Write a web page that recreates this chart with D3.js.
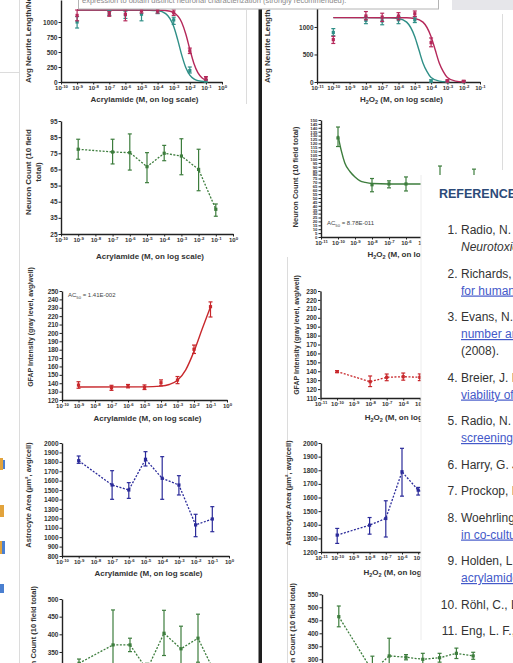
<!DOCTYPE html>
<html>
<head>
<meta charset="utf-8">
<script src="https://cdn.jsdelivr.net/npm/d3@7"></script>
<style>
  body { margin: 0; background: #fff; }
  svg { display: block; }
</style>
</head>
<body>
<div id="chart"></div>
<script>
// ---- doses and tick labels ----
var acrylDose = [1e-9, 1e-7, 1e-6, 1e-5, 1e-4, 1e-3, 1e-2, 1e-1];
var h2o2Dose = [1e-10, 1e-8, 1e-7, 1e-6, 1e-5, 1e-4, 1e-3, 1e-2];
var acrylTicks = [1e-10, 1e-9, 1e-8, 1e-7, 1e-6, 1e-5, 1e-4, 1e-3, 1e-2, 1e-1, 1];
var h2o2Ticks = [1e-11, 1e-10, 1e-9, 1e-8, 1e-7, 1e-6, 1e-5, 1e-4, 1e-3, 1e-2, 1e-1];

var lenTicksA = [0, 250, 500, 750, 1000];
var countTicksA = [25, 35, 45, 55, 65, 75, 85, 95];
var gfapTicksA = [120, 130, 140, 150, 160, 170, 180, 190, 200, 210, 220, 230, 240, 250];
var areaTicksA = [800, 900, 1000, 1100, 1200, 1300, 1400, 1500, 1600, 1700, 1800, 1900, 2000];
var count2TicksA = [250, 300, 350, 400, 450, 500];
var lenTicksH = [0, 500, 1000];
var countTicksH = [0, 5, 10, 15, 20, 25, 30, 35, 40, 45, 50, 55, 60, 65, 70, 75, 80, 85, 90, 95,
                   100, 105, 110, 115, 120, 125, 130, 135, 140, 145, 150];
var gfapTicksH = [110, 120, 130, 140, 150, 160, 170, 180, 190, 200, 210, 220, 230];
var areaTicksH = [1200, 1300, 1400, 1500, 1600, 1700, 1800, 1900, 2000];
var count2TicksH = [250, 300, 350, 400, 450, 500, 550];

// ---- acrylamide: neurite length, two cell lines ----
var lenAcrylPink   = [1110, 1135, 1130, 1190, 1195, 1155, 520, 60];
var lenAcrylPinkLo = [1020, 1095, 1020, 1150, 1150, 1110, 475, 30];
var lenAcrylPinkHi = [1200, 1175, 1200, 1230, 1240, 1200, 565, 90];
var lenAcrylTeal   = [1000, 1150, 1120, 1130, 1180, 1035, 190, 20];
var lenAcrylTealLo = [900, 1110, 1060, 1020, 1140, 960, 150, 0];
var lenAcrylTealHi = [1090, 1190, 1180, 1200, 1220, 1080, 250, 40];
var lenAcrylPinkFit = [[-9, 1200], [-4, 1199], [-3.5, 1192], [-3, 1157], [-2.5, 991], [-2.25, 800],
                       [-2, 548], [-1.75, 314], [-1.5, 156], [-1.25, 72], [-1, 31]];
var lenAcrylTealFit = [[-9, 1200], [-4.5, 1197], [-4, 1189], [-3.5, 1140], [-3, 924], [-2.75, 703],
                       [-2.5, 448], [-2.25, 241], [-2, 115], [-1.75, 52], [-1.5, 22], [-1, 4]];

// ---- acrylamide: neuron count ----
var countAcryl   = [77.5, 75.8, 75.4, 66.7, 75, 73.3, 65, 40.3];
var countAcrylLo = [71.3, 68.4, 64.6, 56.8, 70.4, 61.7, 51.8, 36];
var countAcrylHi = [83.7, 83.7, 87, 75.4, 79.9, 84, 77.5, 43.6];

// ---- acrylamide: GFAP ----
var gfapAcryl   = [137.8, 134.5, 136.5, 135.2, 140.6, 143.8, 180.5, 231.3];
var gfapAcrylLo = [134, 131.5, 134.5, 132.5, 137, 139.5, 175.5, 219];
var gfapAcrylHi = [141.8, 137.5, 138.5, 138, 144, 148, 185.5, 237];
var gfapAcrylFit = [[-9, 135.5], [-5, 135.6], [-4, 136.5], [-3.5, 138.5], [-3, 143.5], [-2.5, 156],
                    [-2, 178], [-1.5, 205], [-1, 231]];

// ---- acrylamide: astrocyte area ----
var areaAcryl   = [1812, 1554, 1501, 1827, 1625, 1554, 1130, 1193];
var areaAcrylLo = [1784, 1402, 1412, 1756, 1402, 1448, 1005, 1058];
var areaAcrylHi = [1862, 1706, 1579, 1908, 1855, 1653, 1243, 1324];

// ---- acrylamide: astrocyte count ----
var astroAcryl   = [318, 370, 370, 300, 403, 359, 389, 290];
var astroAcrylLo = [306, 271, 351, 282, 340, 295, 321, 270];
var astroAcrylHi = [330, 469, 389, 318, 468, 423, 457, 310];

// ---- H2O2: neurite length ----
var lenH2o2Pink   = [770, 1200, 1180, 1200, 1240, 715, 20, 10];
var lenH2o2PinkLo = [700, 1130, 1100, 1130, 1190, 640, 0, 0];
var lenH2o2PinkHi = [830, 1280, 1250, 1260, 1290, 800, 40, 30];
var lenH2o2Teal   = [900, 1120, 1110, 1130, 1130, 15, 5, 5];
var lenH2o2TealLo = [840, 1060, 1040, 1060, 1080, 0, 0, 0];
var lenH2o2TealHi = [970, 1180, 1170, 1190, 1180, 40, 20, 20];
var lenH2o2PinkFit = [[-10, 1170], [-5.5, 1168], [-5, 1155], [-4.5, 1088], [-4, 823], [-3.75, 585],
                      [-3.5, 347], [-3.25, 190], [-3, 82], [-2.5, 15], [-2, 3]];
var lenH2o2TealFit = [[-10, 1170], [-6.5, 1168], [-6, 1155], [-5.5, 1088], [-5, 823], [-4.75, 585],
                      [-4.5, 347], [-4.25, 190], [-4, 82], [-3.5, 15], [-3, 3]];

// ---- H2O2: neuron count ----
var countH2o2   = [127, 67, 68, 68, 68, 72, 70, 70];
var countH2o2Lo = [116, 58, 63, 59, 62, 53, 62, 53];
var countH2o2Hi = [141, 75, 72, 77, 74, 91, 78, 87];
var countH2o2Fit = [[-10, 130], [-9.8, 110], [-9.6, 95], [-9.3, 84], [-9, 77], [-8.7, 72],
                    [-8.4, 70], [-8, 68.5], [-7, 68], [-2, 68]];

// ---- H2O2: GFAP ----
var gfapH2o2   = [139.6, 128.3, 133.2, 133.9, 133.2, 134, 135, 136];
var gfapH2o2Lo = [138.5, 122.8, 129.4, 130, 129.5, 130, 131, 132];
var gfapH2o2Hi = [140.7, 134.7, 136.9, 138, 137, 138, 139, 140];

// ---- H2O2: astrocyte area ----
var areaH2o2   = [1324, 1397, 1446, 1789, 1654, 1600, 1560, 1520];
var areaH2o2Lo = [1263, 1331, 1310, 1610, 1618, 1540, 1500, 1450];
var areaH2o2Hi = [1373, 1453, 1576, 1961, 1674, 1660, 1620, 1590];

// ---- H2O2: astrocyte count ----
var astroH2o2   = [464, 255, 313, 308, 300, 306, 323, 313];
var astroH2o2Lo = [425, 200, 245, 298, 277, 289, 303, 300];
var astroH2o2Hi = [505, 312, 381, 318, 323, 323, 343, 327];

// ---- references list (right overlay) ----
var refNums = ["1.", "2.", "3.", "4.", "5.", "6.", "7.", "8.", "9.", "10.", "11."];
var refLines = [
  [["Radio, N. M. & Mundy, W. R. Developmental neurotoxicity", "t"], ["Neurotoxicology 29, 361-376 (2008).", "i"]],
  [["Richards, G. R. et al. Quantitative assessment of neurite", "t"], ["for human neural cells in culture.", "a"]],
  [["Evans, N. et al. Automated analysis of neurite", "t"], ["number and neurite length in vitro.", "a"], ["(2008).", "t"]],
  [["Breier, J. M. et al. Neural progenitor cells as models", "t"], ["viability of developing neurons.", "a"]],
  [["Radio, N. M. et al. Assessment of chemical effects", "t"], ["screening. Toxicol. Sci. (2008).", "a"]],
  [["Harry, G. J. & Tiffany-Castiglioni, E.", "t"]],
  [["Prockop, L. D. & Chichkova, R. I.", "t"]],
  [["Woehrling, E. K. et al. Single-cell ELISA and flow", "t"], ["in co-culture with astrocytes.", "a"]],
  [["Holden, L. J. & Coleman, M. P. Comparative effects of", "t"], ["acrylamide on neurite outgrowth.", "a"]],
  [["Röhl, C., Lucius, R. & Sievers, J.", "t"]],
  [["Eng, L. F., Ghirnikar, R. S. & Lee, Y. L.", "t"]]
];

var FONT = "'Liberation Sans', Arial, Helvetica, sans-serif";
var TEAL = "#2f8f87", PINK = "#b5285a", GREEN = "#3d7d3d", RED = "#c8282c", BLUE = "#2b2b9a";
var OVERLAY = { x: 421, y: 175, w: 92, h: 465 };

var svg = d3.select("#chart").append("svg")
    .attr("width", 513)
    .attr("height", 663)
    .style("font-family", FONT);

svg.append("rect").attr("width", 513).attr("height", 663).attr("fill", "#fff");

// faint page frame lines behind the figures
var frame = svg.append("g").attr("stroke", "#dcdcdc").attr("stroke-width", 1);
frame.append("line").attr("x1", 19.5).attr("x2", 19.5).attr("y1", 0).attr("y2", 663);
frame.append("line").attr("x1", 0).attr("x2", 19.5).attr("y1", 72.5).attr("y2", 72.5);
frame.append("line").attr("x1", 246.5).attr("x2", 246.5).attr("y1", 10).attr("y2", 104);
frame.append("line").attr("x1", 287.5).attr("x2", 287.5).attr("y1", 257).attr("y2", 663);
frame.append("line").attr("x1", 502.5).attr("x2", 502.5).attr("y1", 14).attr("y2", 170);

// draws axes of one panel and returns its scales
function drawPanel(p) {
    var x = d3.scaleLog().domain([p.xTicks[0], p.xTicks[p.xTicks.length - 1]]).range(p.xr);
    var y = d3.scaleLinear().domain(p.yd).range(p.yr);
    var g = svg.append("g");

    var ay = g.append("g")
        .attr("transform", `translate(${p.xr[0]},0)`)
        .call(d3.axisLeft(y).tickValues(p.yTicks).tickFormat(d3.format("d"))
            .tickSize(2.5).tickSizeOuter(0).tickPadding(1));
    ay.attr("font-family", FONT);
    ay.selectAll("text")
        .attr("font-size", p.yFont || 6.5)
        .attr("font-weight", "bold")
        .attr("fill", "#333");

    var ax = g.append("g")
        .attr("transform", `translate(0,${p.yr[0]})`)
        .call(d3.axisBottom(x).tickValues(p.xTicks).tickSize(2.5).tickSizeOuter(0).tickPadding(1.2).tickFormat(""));
    ax.attr("font-family", FONT);
    ax.selectAll(".tick text").each(function (d) {
        var t = d3.select(this).text(null)
            .attr("font-size", 6)
            .attr("font-weight", "bold")
            .attr("fill", "#333");
        t.append("tspan").text("10");
        t.append("tspan").attr("dy", -2.4).attr("font-size", 4.3).text(Math.round(Math.log10(d)));
    });

    [ax, ay].forEach(function (a) {
        a.select(".domain").attr("stroke", "#222").attr("stroke-width", 1.4);
        a.selectAll(".tick line").attr("stroke", "#222").attr("stroke-width", 1);
    });

    // x axis title
    if (p.xTitle) {
        var xt = g.append("text")
            .attr("x", (p.xr[0] + p.xr[1]) / 2 + 3)
            .attr("y", p.xTitleY)
            .attr("text-anchor", "middle")
            .attr("font-size", 8)
            .attr("font-weight", "bold")
            .attr("fill", "#333");
        if (p.xTitle === "H2O2") {
            xt.append("tspan").text("H");
            xt.append("tspan").attr("font-size", 5.5).attr("dy", 1.5).text("2");
            xt.append("tspan").attr("dy", -1.5).text("O");
            xt.append("tspan").attr("font-size", 5.5).attr("dy", 1.5).text("2");
            xt.append("tspan").attr("dy", -1.5).text(" (M, on log scale)");
        } else {
            xt.text(p.xTitle);
        }
    }

    // y axis title (one or two lines)
    p.yTitle.forEach(function (line, i) {
        g.append("text")
            .attr("transform", `translate(${p.yTitleX + i * 10},${p.yTitleY}) rotate(-90)`)
            .attr("text-anchor", p.yAnchor || "middle")
            .attr("dy", "0.35em")
            .attr("font-size", p.yTitleFont || 7.5)
            .attr("font-weight", "bold")
            .attr("fill", "#333")
            .text(line);
    });

    return { g: g, x: x, y: y };
}

// mean, error bars and optional dashed connector
function drawSeries(s, doses, mean, lo, hi, color, dashed) {
    var pts = doses.map(function (d, i) { return { d: d, m: mean[i], lo: lo[i], hi: hi[i] }; });
    if (dashed) {
        s.g.append("path")
            .datum(pts)
            .attr("fill", "none")
            .attr("stroke", color)
            .attr("stroke-width", 1.3)
            .attr("stroke-dasharray", "2,1.5")
            .attr("d", d3.line().x(function (p) { return s.x(p.d); }).y(function (p) { return s.y(p.m); }));
    }
    var eb = s.g.append("g").attr("stroke", color).attr("stroke-width", 1.2);
    eb.selectAll(".bar").data(pts).enter().append("line")
        .attr("x1", function (p) { return s.x(p.d); })
        .attr("x2", function (p) { return s.x(p.d); })
        .attr("y1", function (p) { return s.y(p.lo); })
        .attr("y2", function (p) { return s.y(p.hi); });
    eb.selectAll(".capHi").data(pts).enter().append("line")
        .attr("x1", function (p) { return s.x(p.d) - 2; })
        .attr("x2", function (p) { return s.x(p.d) + 2; })
        .attr("y1", function (p) { return s.y(p.hi); })
        .attr("y2", function (p) { return s.y(p.hi); });
    eb.selectAll(".capLo").data(pts).enter().append("line")
        .attr("x1", function (p) { return s.x(p.d) - 2; })
        .attr("x2", function (p) { return s.x(p.d) + 2; })
        .attr("y1", function (p) { return s.y(p.lo); })
        .attr("y2", function (p) { return s.y(p.lo); });
    s.g.selectAll(null).data(pts).enter().append("rect")
        .attr("x", function (p) { return s.x(p.d) - 1.6; })
        .attr("y", function (p) { return s.y(p.m) - 1.6; })
        .attr("width", 3.2)
        .attr("height", 3.2)
        .attr("fill", color);
}

function drawFit(s, pts, color) {
    s.g.append("path")
        .datum(pts)
        .attr("fill", "none")
        .attr("stroke", color)
        .attr("stroke-width", 1.4)
        .attr("d", d3.line()
            .x(function (d) { return s.x(Math.pow(10, d[0])); })
            .y(function (d) { return s.y(d[1]); })
            .curve(d3.curveMonotoneX));
}

function drawAC50(s, xPos, yPos, value) {
    var t = s.g.append("text")
        .attr("x", xPos).attr("y", yPos)
        .attr("font-size", 6)
        .attr("fill", "#444");
    t.append("tspan").text("AC");
    t.append("tspan").attr("font-size", 4.2).attr("dy", 1.5).text("50");
    t.append("tspan").attr("dy", -1.5).text(" = " + value);
}

// texts that end up completely under the references overlay are never seen
function dropHidden(s) {
    s.g.selectAll("text").each(function () {
        var b = this.getBoundingClientRect();
        if (b.left >= OVERLAY.x && b.top >= OVERLAY.y && b.bottom <= OVERLAY.y + OVERLAY.h) {
            d3.select(this).remove();
        }
    });
}

// ---------------- left column: acrylamide ----------------
var pA = drawPanel({ xTicks: acrylTicks, xr: [61, 222], yd: [0, 1367], yr: [82, 0], yTicks: lenTicksA,
    xTitle: "Acrylamide (M, on log scale)", xTitleY: 102,
    yTitle: ["Avg Neurite Length/Neuron"], yTitleX: 28, yTitleY: 83, yAnchor: "start", yTitleFont: 8 });
drawFit(pA, lenAcrylTealFit, TEAL);
drawFit(pA, lenAcrylPinkFit, PINK);
drawSeries(pA, acrylDose, lenAcrylTeal, lenAcrylTealLo, lenAcrylTealHi, TEAL, false);
drawSeries(pA, acrylDose, lenAcrylPink, lenAcrylPinkLo, lenAcrylPinkHi, PINK, false);

var pB = drawPanel({ xTicks: acrylTicks, xr: [61, 233], yd: [25, 95], yr: [234, 121], yTicks: countTicksA,
    xTitle: "Acrylamide (M, on log scale)", xTitleY: 259,
    yTitle: ["Neuron Count (10 field", "total)"], yTitleX: 28, yTitleY: 172, yTitleFont: 8 });
drawSeries(pB, acrylDose, countAcryl, countAcrylLo, countAcrylHi, GREEN, true);

var pC = drawPanel({ xTicks: acrylTicks, xr: [62, 227], yd: [120, 250], yr: [400, 291], yTicks: gfapTicksA,
    xTitle: "Acrylamide (M, on log scale)", xTitleY: 421,
    yTitle: ["GFAP Intensity (gray level, avg/well)"], yTitleX: 31, yTitleY: 327, yTitleFont: 7 });
drawFit(pC, gfapAcrylFit, RED);
drawSeries(pC, acrylDose, gfapAcryl, gfapAcrylLo, gfapAcrylHi, RED, false);
drawAC50(pC, 68, 297, "1.41E-002");

var pD = drawPanel({ xTicks: acrylTicks, xr: [62, 229], yd: [800, 2000], yr: [556, 443], yTicks: areaTicksA,
    xTitle: "Acrylamide (M, on log scale)", xTitleY: 576,
    yTitle: ["Astrocyte Area (µm², avg/cell)"], yTitleX: 28, yTitleY: 495 });
drawSeries(pD, acrylDose, areaAcryl, areaAcrylLo, areaAcrylHi, BLUE, true);

var pE = drawPanel({ xTicks: acrylTicks, xr: [62, 232], yd: [250, 500], yr: [687.3, 599], yTicks: count2TicksA,
    yTitle: ["Neuron Count (10 field total)"], yTitleX: 33, yTitleY: 586, yAnchor: "end" });
drawSeries(pE, acrylDose, astroAcryl, astroAcrylLo, astroAcrylHi, GREEN, true);

// ---------------- right column: H2O2 ----------------
var pF = drawPanel({ xTicks: h2o2Ticks, xr: [317, 480], yd: [0, 1490], yr: [82, 0], yTicks: lenTicksH,
    xTitle: "H2O2", xTitleY: 102,
    yTitle: ["Avg Neurite Length/Neuron"], yTitleX: 267, yTitleY: 83, yAnchor: "start", yTitleFont: 8 });
drawFit(pF, lenH2o2TealFit, TEAL);
drawFit(pF, lenH2o2PinkFit, PINK);
drawSeries(pF, h2o2Dose, lenH2o2Teal, lenH2o2TealLo, lenH2o2TealHi, TEAL, false);
drawSeries(pF, h2o2Dose, lenH2o2Pink, lenH2o2PinkLo, lenH2o2PinkHi, PINK, false);

var pG = drawPanel({ xTicks: h2o2Ticks, xr: [321, 491], yd: [0, 150], yr: [237, 120], yTicks: countTicksH, yFont: 4.3,
    xTitle: "H2O2", xTitleY: 257,
    yTitle: ["Neuron Count (10 field total)"], yTitleX: 295, yTitleY: 177 });
drawFit(pG, countH2o2Fit, GREEN);
drawSeries(pG, h2o2Dose, countH2o2, countH2o2Lo, countH2o2Hi, GREEN, false);
drawAC50(pG, 327, 225, "8.78E-011");

var pH = drawPanel({ xTicks: h2o2Ticks, xr: [320.5, 486], yd: [110, 230], yr: [398, 291], yTicks: gfapTicksH,
    xTitle: "H2O2", xTitleY: 420,
    yTitle: ["GFAP Intensity (gray level, avg/well)"], yTitleX: 297, yTitleY: 335, yTitleFont: 7 });
drawSeries(pH, h2o2Dose, gfapH2o2, gfapH2o2Lo, gfapH2o2Hi, RED, true);

var pI = drawPanel({ xTicks: h2o2Ticks, xr: [321, 483], yd: [1200, 2000], yr: [552, 443], yTicks: areaTicksH,
    xTitle: "H2O2", xTitleY: 575,
    yTitle: ["Astrocyte Area (µm², avg/cell)"], yTitleX: 288, yTitleY: 493 });
drawSeries(pI, h2o2Dose, areaH2o2, areaH2o2Lo, areaH2o2Hi, BLUE, true);

var pJ = drawPanel({ xTicks: h2o2Ticks, xr: [322, 490], yd: [250, 550], yr: [672.3, 594.3], yTicks: count2TicksH,
    yTitle: ["Neuron Count (10 field total)"], yTitleX: 292, yTitleY: 583, yAnchor: "end" });
drawSeries(pJ, h2o2Dose, astroH2o2, astroH2o2Lo, astroH2o2Hi, GREEN, true);

[pG, pH, pI, pJ].forEach(dropHidden);

// ---------------- page decorations on top ----------------
// column separator bar
svg.append("rect").attr("x", 258.5).attr("y", 0).attr("width", 3.5).attr("height", 663).attr("fill", "#1e1e1e");

// caption box cut at the top
svg.append("rect").attr("x", 78.5).attr("y", -2).attr("width", 360).attr("height", 11)
    .attr("fill", "#fff").attr("stroke", "#b4b4b4");
svg.append("text").attr("x", 82).attr("y", 3)
    .attr("font-size", 7.5).attr("fill", "#8a8a8a")
    .text("expression to obtain distinct neuronal characterization (strongly recommended).");
svg.append("rect").attr("x", 452).attr("y", 0).attr("width", 61).attr("height", 10).attr("fill", "#e6e6ea");

// small coloured icon fragments at the left page edge
var icons = svg.append("g");
icons.append("rect").attr("x", 0).attr("y", 458).attr("width", 3).attr("height", 12).attr("fill", "#e2a33c");
icons.append("rect").attr("x", 3).attr("y", 460).attr("width", 2).attr("height", 9).attr("fill", "#4a7fd0");
icons.append("rect").attr("x", 0).attr("y", 505).attr("width", 4).attr("height", 12).attr("fill", "#e2a33c");
icons.append("rect").attr("x", 0).attr("y", 541).attr("width", 2).attr("height", 13).attr("fill", "#e2a33c");
icons.append("rect").attr("x", 2).attr("y", 541).attr("width", 3).attr("height", 13).attr("fill", "#4a7fd0");
icons.append("rect").attr("x", 0).attr("y", 584).attr("width", 4).attr("height", 9).attr("fill", "#4a7fd0");

// references overlay
var refs = svg.append("g");
refs.append("rect").attr("x", OVERLAY.x).attr("y", OVERLAY.y).attr("width", OVERLAY.w).attr("height", OVERLAY.h)
    .attr("fill", "#fff");
refs.append("line").attr("x1", OVERLAY.x).attr("x2", OVERLAY.x)
    .attr("y1", OVERLAY.y).attr("y2", OVERLAY.y + OVERLAY.h).attr("stroke", "#ececec");
refs.append("text").attr("x", 439).attr("y", 198)
    .attr("font-size", 12.5).attr("font-weight", "bold").attr("fill", "#2c4a78")
    .text("REFERENCES");

var lineY = 234;
refLines.forEach(function (item, i) {
    refs.append("text").attr("x", 457.5).attr("y", lineY)
        .attr("text-anchor", "end").attr("font-size", 12).attr("fill", "#333")
        .text(refNums[i]);
    item.forEach(function (ln, j) {
        var t = refs.append("text").attr("x", 461).attr("y", lineY + j * 17)
            .attr("font-size", 12)
            .attr("fill", ln[1] === "a" ? "#4459c9" : "#333")
            .text(ln[0]);
        if (ln[1] === "i") t.attr("font-style", "italic");
        if (ln[1] === "a") t.attr("text-decoration", "underline");
    });
    lineY += item.length * 17 + 9.5;
});
</script>
</body>
</html>
